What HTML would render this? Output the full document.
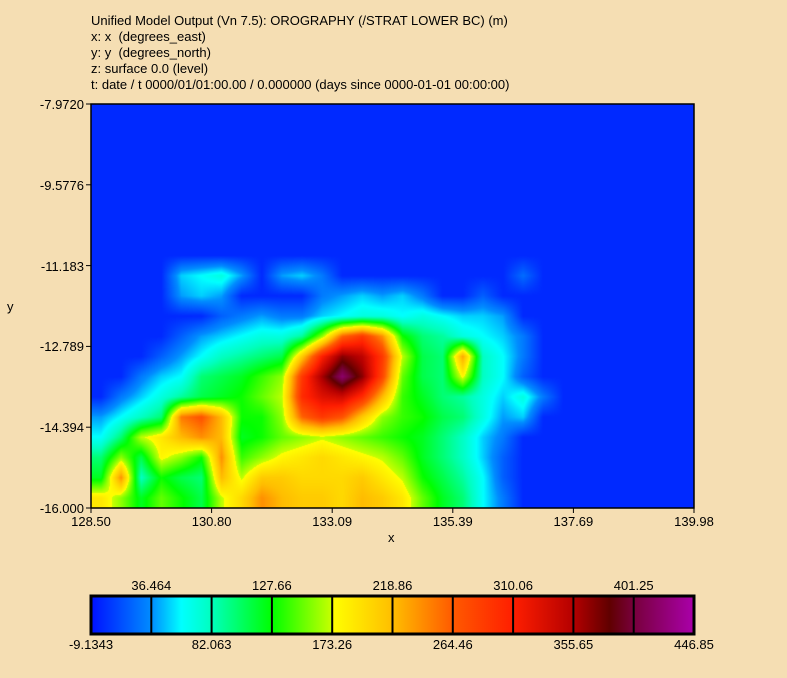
<!DOCTYPE html>
<html><head><meta charset="utf-8"><style>
body{margin:0;width:787px;height:678px;background:#f5deb3;font-family:"Liberation Sans",sans-serif;overflow:hidden;position:relative}
.t{position:absolute;font-size:13px;color:#000;white-space:nowrap;line-height:15px}
#hdr{position:absolute;left:91px;top:13px;font-size:13px;line-height:16px}
</style></head><body>
<div id="hdr">
<div>Unified Model Output (Vn 7.5): OROGRAPHY (/STRAT LOWER BC) (m)</div>
<div>x: x &nbsp;(degrees_east)</div>
<div>y: y &nbsp;(degrees_north)</div>
<div>z: surface 0.0 (level)</div>
<div>t: date / t 0000/01/01:00.00 / 0.000000 (days since 0000-01-01 00:00:00)</div>
</div>
<canvas id="cv" width="603" height="404" style="position:absolute;left:91px;top:104px"></canvas>
<svg id="sv" width="787" height="678" style="position:absolute;left:0;top:0"></svg>
<div class="t" style="left:388px;top:530px">x</div>
<div class="t" style="left:7px;top:299px">y</div>
<div id="labels"></div>
<script>
const xTicks=["128.50","130.80","133.09","135.39","137.69","139.98"];
const yTicks=["-7.9720","-9.5776","-11.183","-12.789","-14.394","-16.000"];
const cbTop=["36.464","127.66","218.86","310.06","401.25"];
const cbBottom=["-9.1343","82.063","173.26","264.46","355.65","446.85"];
const vMin=-9.1343, vMax=446.85;
const ocean=0;
// grid rows 8..19 (rows 0..7 ocean), 30 columns each (values in m)
const row8 =[0,0,0,0,50,60,70,40,0,40,50,30,0,0,0,0,0,0,0,0,0,25,0,0,0,0,0,0,0,0];
const row9 =[0,0,0,0,40,50,40,0,0,0,0,30,40,50,40,50,30,0,0,20,0,0,0,0,0,0,0,0,0,0];
const row10=[0,0,0,0,0,0,20,30,40,30,30,50,60,70,70,60,70,60,50,50,40,0,0,0,0,0,0,0,0,0];
const row11=[0,0,0,0,20,40,50,60,70,70,90,160,260,290,240,130,100,90,70,60,50,30,0,0,0,0,0,0,0,0];
const row12=[0,0,0,20,40,60,80,90,100,110,210,310,370,350,290,170,110,100,230,80,60,30,0,0,0,0,0,0,0,0];
const row13=[0,0,30,50,60,100,110,120,140,160,290,360,420,370,280,150,110,100,180,80,60,20,0,0,0,0,0,0,0,0];
const row14=[0,30,50,70,90,110,120,130,150,170,300,330,340,300,220,140,120,100,90,70,50,70,30,0,0,0,0,0,0,0];
const row15=[40,60,80,100,250,270,220,130,130,160,260,290,270,210,160,140,130,110,100,70,40,50,0,0,0,0,0,0,0,0];
const row16=[60,100,170,190,220,240,220,120,130,150,160,170,160,150,140,130,120,100,80,50,30,0,0,0,0,0,0,0,0,0];
const row17=[100,160,110,180,160,130,240,140,160,180,190,200,190,180,170,150,120,100,80,50,20,0,0,0,0,0,0,0,0,0];
const row18=[120,240,80,130,110,100,220,170,210,210,200,200,200,210,190,170,130,110,90,60,20,0,0,0,0,0,0,0,0,0];
const row19=[190,160,120,150,130,110,170,200,240,220,210,210,200,220,210,190,150,120,100,60,30,0,0,0,0,0,0,0,0,0];
const grid=[];
for(let i=0;i<8;i++)grid.push(new Array(30).fill(ocean));
grid.push(row8,row9,row10,row11,row12,row13,row14,row15,row16,row17,row18,row19);

const PX=91,PY=104,PW=603,PH=404;
const stops=[[0,0,16,255],[0.1,0,140,255],[0.15,0,255,255],[0.2,0,255,190],[0.3,0,255,0],[0.4,200,255,0],[0.401,255,255,0],[0.5,255,190,0],[0.6,255,90,0],[0.7,255,30,0],[0.8,180,0,0],[0.86,96,0,0],[0.9,120,0,60],[1,170,0,170]];
function cmap(t){t=Math.max(0,Math.min(1,t));for(let i=1;i<stops.length;i++){if(t<=stops[i][0]){const a=stops[i-1],b=stops[i],f=(t-a[0])/(b[0]-a[0]);return [a[1]+(b[1]-a[1])*f,a[2]+(b[2]-a[2])*f,a[3]+(b[3]-a[3])*f];}}return stops[stops.length-1].slice(1);}
const nr=grid.length,nc=grid[0].length;
const cv=document.getElementById('cv'),ctx=cv.getContext('2d');
const img=ctx.createImageData(PW,PH);
for(let y=0;y<PH;y++){const gy=Math.max(0,Math.min(nr-1.0001,(y+0.5)/PH*nr-0.5));const r0=Math.floor(gy),fy=gy-r0;
 for(let x=0;x<PW;x++){const gx=Math.max(0,Math.min(nc-1.0001,(x+0.5)/PW*nc-0.5));const c0=Math.floor(gx),fx=gx-c0;
  const v=(grid[r0][c0]*(1-fx)+grid[r0][c0+1]*fx)*(1-fy)+(grid[r0+1][c0]*(1-fx)+grid[r0+1][c0+1]*fx)*fy;
  const c=cmap((v-vMin)/(vMax-vMin));const k=(y*PW+x)*4;img.data[k]=c[0];img.data[k+1]=c[1];img.data[k+2]=c[2];img.data[k+3]=255;}}
ctx.putImageData(img,0,0);

const NS='http://www.w3.org/2000/svg';const sv=document.getElementById('sv');
function el(tag,a){const e=document.createElementNS(NS,tag);for(const k in a)e.setAttribute(k,a[k]);sv.appendChild(e);return e;}
function xs(i){return PX+i*PW/(xTicks.length-1);}
function ys(i){return PY+i*PH/(yTicks.length-1);}
const frame=el('rect',{x:PX,y:PY,width:PW,height:PH,fill:'none',stroke:'#000','stroke-width':1.5});


const lab=document.getElementById('labels');
function addLabel(txt,x,y,align,name){const d=document.createElement('div');d.className='t';d.textContent=txt;
 d.style.top=(y-7)+'px';
 if(align==='r'){d.style.right=(787-x)+'px';}else if(align==='c'){d.style.left=x+'px';d.style.transform='translateX(-50%)';}else d.style.left=x+'px';
 
 
 lab.appendChild(d);}
xTicks.forEach((t,i)=>{const l=el('line',{x1:xs(i),x2:xs(i),y1:PY+PH,y2:PY+PH+5,stroke:'#000'});
 
 
 addLabel(t,xs(i),521,'c','x-tick-label');});
yTicks.forEach((t,i)=>{const l=el('line',{x1:PX-5,x2:PX,y1:ys(i),y2:ys(i),stroke:'#000'});
 
 
 addLabel(t,84,ys(i),'r','y-tick-label');});
// colorbar
const CX=91,CY=596,CW=603,CH=38,nseg=10;
const defs=el('defs',{});const lg=document.createElementNS(NS,'linearGradient');lg.setAttribute('id','cbg');defs.appendChild(lg);
stops.forEach(s=>{const st=document.createElementNS(NS,'stop');st.setAttribute('offset',s[0]);st.setAttribute('stop-color','rgb('+s[1]+','+s[2]+','+s[3]+')');lg.appendChild(st);});
const cb=el('rect',{x:CX,y:CY,width:CW,height:CH,fill:'url(#cbg)',stroke:'#000','stroke-width':3});


for(let i=1;i<nseg;i++){const x=CX+i*CW/nseg;const l=el('line',{x1:x,x2:x,y1:CY,y2:CY+CH,stroke:'#000','stroke-width':2});
 
 }
cbTop.forEach((t,i)=>addLabel(t,CX+(2*i+1)*CW/nseg,585,'c','colorbar-label'));
cbBottom.forEach((t,i)=>addLabel(t,CX+2*i*CW/nseg,644,'c','colorbar-label'));
</script>
</body></html>
